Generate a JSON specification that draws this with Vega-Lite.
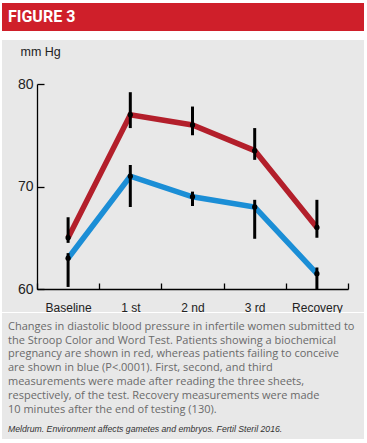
{
  "$schema": "https://vega.github.io/schema/vega-lite/v6.json",
  "background": "#ffffff",
  "padding": {"left": 2, "top": 3, "right": 3, "bottom": 4},
  "spacing": 9,
  "config": {"view": {"stroke": null}},
  "datasets": {
    "header": [{"text": "FIGURE 3"}],
    "bp": [
      {"stage": "Baseline", "group": "Biochemical pregnancy", "mean": 65.0, "lo": 64.5, "hi": 67.0},
      {"stage": "1 st", "group": "Biochemical pregnancy", "mean": 77.0, "lo": 75.7, "hi": 79.2},
      {"stage": "2 nd", "group": "Biochemical pregnancy", "mean": 76.0, "lo": 75.0, "hi": 77.8},
      {"stage": "3 rd", "group": "Biochemical pregnancy", "mean": 73.5, "lo": 72.6, "hi": 75.7},
      {"stage": "Recovery", "group": "Biochemical pregnancy", "mean": 66.0, "lo": 65.0, "hi": 68.7},
      {"stage": "Baseline", "group": "Failed to conceive", "mean": 63.0, "lo": 60.2, "hi": 63.5},
      {"stage": "1 st", "group": "Failed to conceive", "mean": 71.0, "lo": 68.0, "hi": 72.1},
      {"stage": "2 nd", "group": "Failed to conceive", "mean": 69.0, "lo": 68.1, "hi": 69.5},
      {"stage": "3 rd", "group": "Failed to conceive", "mean": 68.0, "lo": 64.9, "hi": 68.7},
      {"stage": "Recovery", "group": "Failed to conceive", "mean": 61.5, "lo": 60.0, "hi": 62.1}
    ],
    "note": [{"label": "ANOVA"}],
    "caption": [
      {"line": 1, "text": "Changes in diastolic blood pressure in infertile women submitted to"},
      {"line": 2, "text": "the Stroop Color and Word Test. Patients showing a biochemical"},
      {"line": 3, "text": "pregnancy are shown in red, whereas patients failing to conceive"},
      {"line": 4, "text": "are shown in blue (P<.0001). First, second, and third"},
      {"line": 5, "text": "measurements were made after reading the three sheets,"},
      {"line": 6, "text": "respectively, of the test. Recovery measurements were made"},
      {"line": 7, "text": "10 minutes after the end of testing (130)."}
    ],
    "source": [
      {"line": 8, "text": "Meldrum. Environment affects gametes and embryos. Fertil Steril 2016."}
    ]
  },
  "vconcat": [
    {
      "width": 362,
      "height": 28,
      "view": {"fill": "#cf1f2a", "stroke": null},
      "data": {"name": "header"},
      "mark": {"type": "text", "align": "left", "baseline": "middle", "font": "Roboto", "fontWeight": "bold", "fontSize": 16, "color": "#ffffff", "dx": 6},
      "encoding": {
        "text": {"field": "text"},
        "x": {"datum": 0, "type": "quantitative", "scale": {"domain": [0, 1]}, "axis": null},
        "y": {"datum": 0.5, "type": "quantitative", "scale": {"domain": [0, 1]}, "axis": null}
      }
    },
    {
      "spacing": 0,
      "vconcat": [
        {
          "width": 362,
          "height": 272,
          "view": {"fill": "#e8e8e8", "stroke": null},
          "data": {"name": "bp"},
          "encoding": {
            "x": {
              "field": "stage",
              "type": "nominal",
              "sort": ["Baseline", "1 st", "2 nd", "3 rd", "Recovery"],
              "scale": {"type": "band", "range": [35, 346], "paddingInner": 0, "paddingOuter": 0},
              "axis": {
                "title": null, "orient": "bottom", "offset": -23,
                "domainColor": "#000000", "domainWidth": 1.3,
                "tickColor": "#000000", "tickWidth": 1.3, "tickSize": -6, "tickBand": "extent",
                "labelFont": "Liberation Sans", "labelFontSize": 12, "labelColor": "#222222",
                "labelPadding": 19, "labelAngle": 0, "grid": false
              }
            },
            "y": {
              "field": "mean",
              "type": "quantitative",
              "title": "mm Hg",
              "scale": {"domain": [60, 80], "range": [249, 44], "zero": false, "nice": false},
              "axis": {
                "orient": "left", "offset": -35, "values": [60, 70, 80],
                "domainColor": "#000000", "domainWidth": 1.3,
                "tickColor": "#000000", "tickWidth": 1.3, "tickSize": -7,
                "labelFont": "Liberation Sans", "labelFontSize": 14, "labelColor": "#222222",
                "labelPadding": 11, "grid": false,
                "titleAngle": 0, "titleAlign": "left", "titleBaseline": "alphabetic",
                "titleX": -17, "titleY": 15,
                "titleFont": "Liberation Sans", "titleFontSize": 12.5, "titleFontWeight": "normal", "titleColor": "#222222"
              }
            }
          },
          "layer": [
            {
              "mark": {"type": "line", "strokeWidth": 5.5, "strokeCap": "butt", "strokeJoin": "miter"},
              "encoding": {
                "color": {
                  "field": "group", "type": "nominal",
                  "scale": {"domain": ["Biochemical pregnancy", "Failed to conceive"], "range": ["#b31f2b", "#1b8ed6"]},
                  "legend": null
                }
              }
            },
            {
              "mark": {"type": "rule", "strokeWidth": 3, "color": "#000000"},
              "encoding": {
                "y": {"field": "lo", "type": "quantitative", "title": "mm Hg"},
                "y2": {"field": "hi"}
              }
            },
            {
              "mark": {"type": "point", "filled": true, "color": "#000000", "size": 28, "opacity": 1}
            },
            {
              "data": {"name": "note"},
              "mark": {"type": "text", "font": "Liberation Sans", "fontSize": 12, "color": "#333333", "align": "center", "baseline": "alphabetic", "dx": 43},
              "encoding": {
                "x": {"datum": "2 nd"},
                "y": {"datum": 79},
                "text": {"field": "label"}
              }
            }
          ]
        },
        {
          "width": 362,
          "height": 126,
          "view": {"fill": "#e8e8e8", "stroke": null},
          "layer": [
            {
              "data": {"name": "caption"},
              "mark": {"type": "text", "align": "left", "baseline": "middle", "font": "Open Sans", "fontSize": 11, "color": "#6a6a6a", "dx": 6},
              "encoding": {
                "x": {"datum": 0, "type": "quantitative", "scale": {"domain": [0, 1]}, "axis": null},
                "y": {"field": "line", "type": "quantitative", "scale": {"domain": [0, 9.13], "range": [0, 126]}, "axis": null},
                "text": {"field": "text"}
              }
            },
            {
              "data": {"name": "source"},
              "mark": {"type": "text", "align": "left", "baseline": "middle", "font": "Liberation Sans", "fontStyle": "italic", "fontSize": 8.7, "color": "#333333", "dx": 6, "dy": 6},
              "encoding": {
                "x": {"datum": 0, "type": "quantitative", "scale": {"domain": [0, 1]}, "axis": null},
                "y": {"field": "line", "type": "quantitative", "scale": {"domain": [0, 9.13], "range": [0, 126]}, "axis": null},
                "text": {"field": "text"}
              }
            }
          ]
        }
      ]
    }
  ]
}
